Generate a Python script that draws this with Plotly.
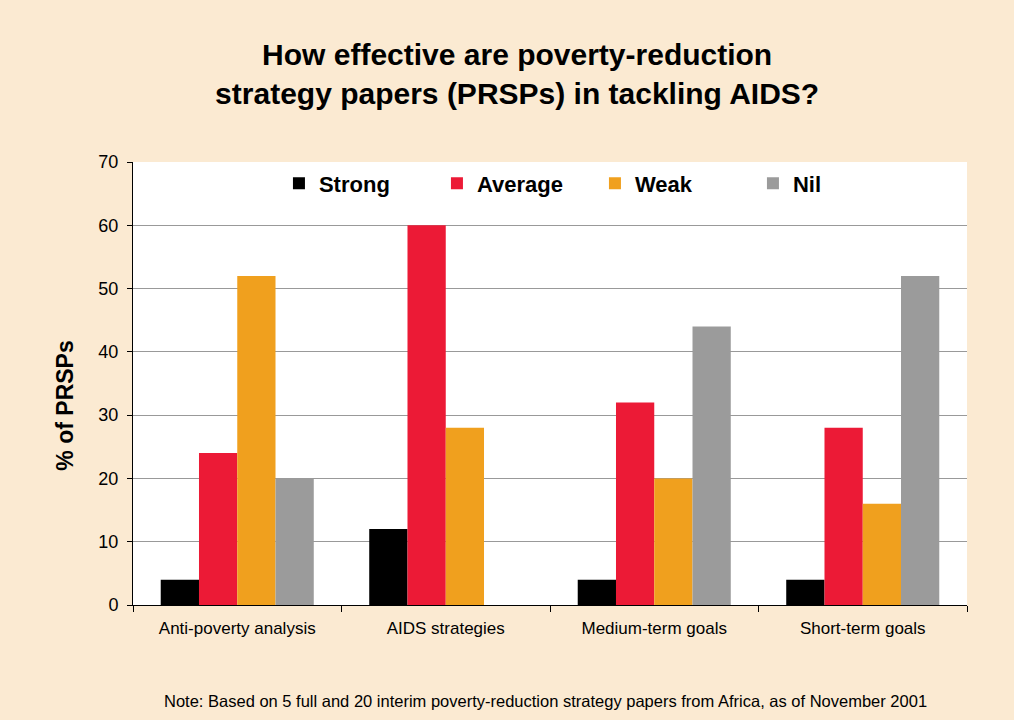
import plotly.graph_objects as go

categories = ["Anti-poverty analysis", "AIDS strategies", "Medium-term goals", "Short-term goals"]
series_names = ["Strong", "Average", "Weak", "Nil"]
strong = [4, 12, 4, 4]
average = [24, 60, 32, 28]
weak = [52, 28, 20, 16]
nil = [20, 0, 44, 52]
y_ticks = [0, 10, 20, 30, 40, 50, 60, 70]

colors = ["#000000", "#EC1A36", "#F0A01E", "#9B9B9B"]
narrow = "Liberation Sans Narrow, Arial Narrow, Liberation Sans, Arial, sans-serif"
bold = "Liberation Sans, Arial, sans-serif"

fig = go.Figure()
for name, vals, col in zip(series_names, [strong, average, weak, nil], colors):
    fig.add_trace(go.Bar(
        x=categories, y=vals, name="<b>" + name + "</b>",
        marker=dict(color=col, line=dict(width=0)),
    ))

fig.update_layout(
    width=1014, height=720,
    paper_bgcolor="#FBEAD2", plot_bgcolor="#FFFFFF",
    margin=dict(l=133, r=47, t=162, b=115),
    barmode="group", bargap=0.266, bargroupgap=0,
    title=dict(
        text="<b>How effective are poverty-reduction<br>strategy papers (PRSPs) in tackling AIDS?</b>",
        x=0.51, xanchor="center", y=0.91, yanchor="middle",
        font=dict(family=bold, size=30, color="#000000"),
    ),
    legend=dict(
        orientation="h", x=0.175, xanchor="left", y=0.999, yanchor="top",
        bgcolor="rgba(0,0,0,0)", font=dict(family=bold, size=22, color="#000000"),
        entrywidth=113, itemsizing="constant", traceorder="normal",
    ),
    showlegend=True,
    font=dict(family=narrow, color="#000000"),
)
fig.update_xaxes(
    showline=True, linecolor="#000000", linewidth=1,
    ticks="outside", tickson="boundaries", ticklen=6, tickcolor="#000000",
    tickfont=dict(family=narrow, size=17), ticklabelstandoff=8, showgrid=False,
)
fig.update_yaxes(
    range=[0, 70], tickvals=y_ticks, showline=True, linecolor="#000000", linewidth=1,
    ticks="outside", ticklen=5, tickcolor="#000000",
    showgrid=True, gridcolor="#999999", gridwidth=1,
    tickfont=dict(family=narrow, size=18), ticklabelstandoff=5,
    zeroline=False,
)
# y-axis title, placed as a rotated annotation
fig.add_annotation(
    text="<b>% of PRSPs</b>", textangle=-90,
    xref="paper", yref="paper", x=0, y=0.45, xshift=-68,
    xanchor="center", yanchor="middle", showarrow=False,
    font=dict(family=bold, size=23, color="#000000"),
)
fig.add_annotation(
    text="Note: Based on 5 full and 20 interim poverty-reduction strategy papers from Africa, as of November 2001",
    xref="paper", yref="paper", x=0.495, y=-0.216, xanchor="center", yanchor="middle",
    showarrow=False, font=dict(family=narrow, size=16.5, color="#000000"),
)
fig.write_html("out.html")
